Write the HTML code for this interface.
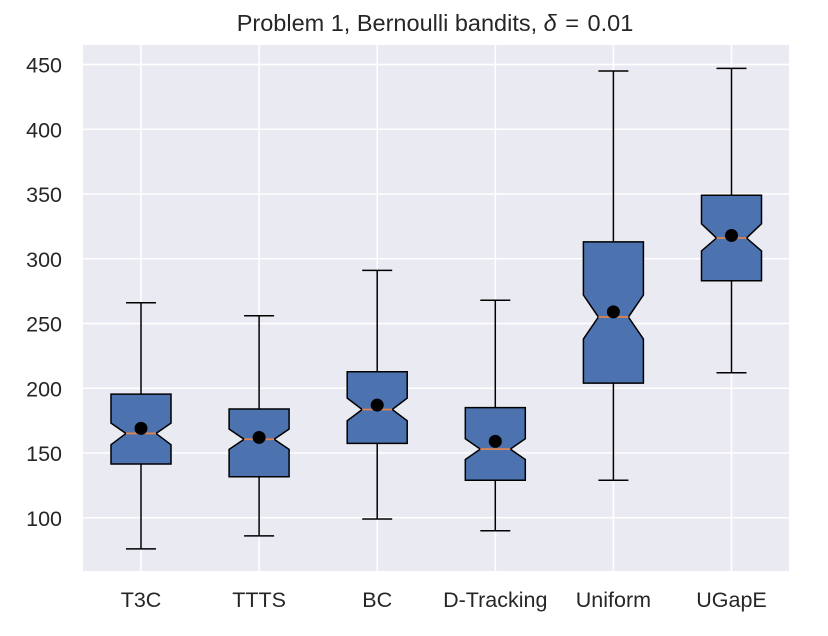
<!DOCTYPE html>
<html><head><meta charset="utf-8"><style>
body{margin:0;background:#fff;}
svg{display:block;font-family:"Liberation Sans","DejaVu Sans",sans-serif;}
</style></head><body>
<svg id="chart" width="828" height="636" viewBox="0 0 828 636"></svg>
<script>
const categories=["T3C","TTTS","BC","D-Tracking","Uniform","UGapE"];
const whiskerHigh=[266,256,291,268,445,447];
const q3=[195.5,184,212.7,185,313,349];
const notchHigh=[173.1,168.5,192.4,161,272,327];
const median=[165.1,160.6,183.6,153,255,316];
const notchLow=[156.4,152.8,174.9,145,238,306];
const q1=[141.5,131.7,157.4,129,204,283];
const whiskerLow=[76,86,99,90,129,212];
const means=[169,162,187,159,259,318];
const yTicks=[100,150,200,250,300,350,400,450];

const NS="http://www.w3.org/2000/svg";
const svg=document.getElementById('chart');
const L=83,R=789,T=45,B=571;
function y(v){return 64.5+(450-v)*1.295;}
function x(i){return 141+i*118.1;}
function mk(tag,attrs,parent){const e=document.createElementNS(NS,tag);for(const k in attrs)e.setAttribute(k,attrs[k]);(parent||svg).appendChild(e);return e;}

const bg=mk('rect',{x:L,y:T,width:R-L,height:B-T,fill:'#eaeaf2'});



yTicks.forEach(v=>{
  const g=mk('line',{x1:L,x2:R,y1:y(v),y2:y(v),stroke:'#fff','stroke-width':1.6});
  
  
  const t=mk('text',{x:62,y:y(v)+8,'text-anchor':'end','font-size':21.5,fill:'#262626'});
  t.textContent=v;
  
  
});
categories.forEach((c,i)=>{
  const g=mk('line',{x1:x(i),x2:x(i),y1:T,y2:B,stroke:'#fff','stroke-width':1.6});
  
  
  const t=mk('text',{x:x(i),y:607,'text-anchor':'middle','font-size':21.5,fill:'#262626'});
  t.textContent=c;
  
  
});

categories.forEach((c,i)=>{
  const cx=x(i),hw=30,nw=15;
  const g=mk('g',{});
  
  
  mk('line',{x1:cx,x2:cx,y1:y(whiskerHigh[i]),y2:y(q3[i]),stroke:'#000','stroke-width':1.5},g);
  mk('line',{x1:cx,x2:cx,y1:y(q1[i]),y2:y(whiskerLow[i]),stroke:'#000','stroke-width':1.5},g);
  mk('line',{x1:cx-hw/2,x2:cx+hw/2,y1:y(whiskerHigh[i]),y2:y(whiskerHigh[i]),stroke:'#000','stroke-width':1.5},g);
  mk('line',{x1:cx-hw/2,x2:cx+hw/2,y1:y(whiskerLow[i]),y2:y(whiskerLow[i]),stroke:'#000','stroke-width':1.5},g);
  const pts=[[cx-hw,y(q1[i])],[cx+hw,y(q1[i])],[cx+hw,y(notchLow[i])],[cx+nw,y(median[i])],[cx+hw,y(notchHigh[i])],[cx+hw,y(q3[i])],[cx-hw,y(q3[i])],[cx-hw,y(notchHigh[i])],[cx-nw,y(median[i])],[cx-hw,y(notchLow[i])]];
  mk('polygon',{points:pts.map(p=>p.join(',')).join(' '),fill:'#4c72b0',stroke:'#000','stroke-width':1.5},g);
  mk('line',{x1:cx-nw,x2:cx+nw,y1:y(median[i]),y2:y(median[i]),stroke:'#dd8452','stroke-width':1.8},g);
  mk('circle',{cx:cx,cy:y(means[i]),r:6.5,fill:'#000'},g);
});

const title=mk('text',{x:435,y:31,'text-anchor':'middle','font-size':23.5,fill:'#262626'});


title.innerHTML='Problem 1, Bernoulli bandits, <tspan font-style="italic">δ</tspan> <tspan dx="2">=</tspan> <tspan dx="2">0.01</tspan>';
</script>
</body></html>
